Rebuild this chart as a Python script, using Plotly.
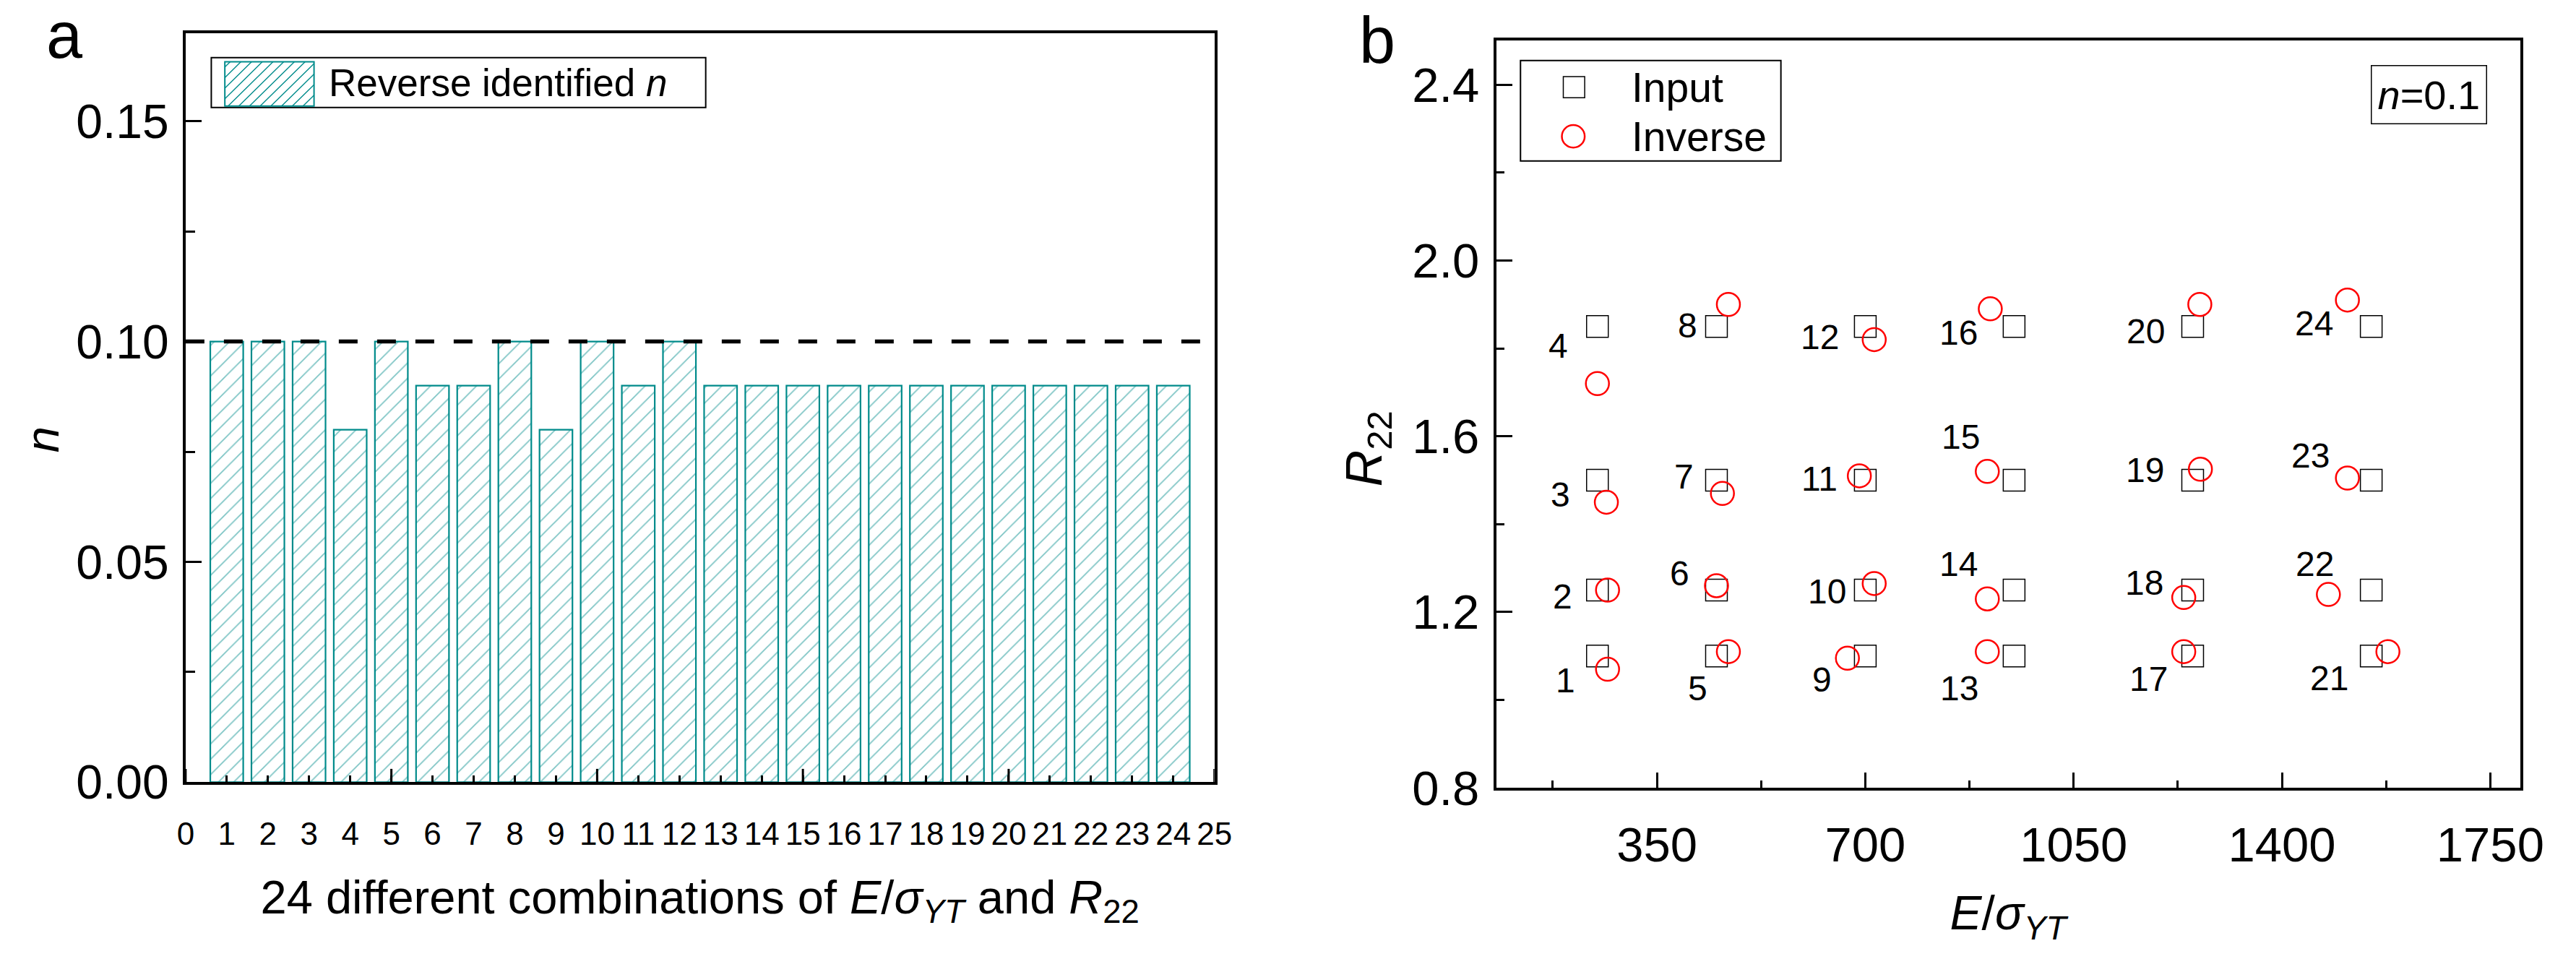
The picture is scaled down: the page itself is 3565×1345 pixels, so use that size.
import plotly.graph_objects as go

W, H = 3565, 1345
FONT = "Liberation Sans, Arial, sans-serif"
TEAL = "#008B8B"

# ---------------- Panel a data ----------------
combo_ids = list(range(1, 25))
n_identified = [0.10, 0.10, 0.10, 0.08, 0.10, 0.09, 0.09, 0.10, 0.08, 0.10, 0.09, 0.10,
                0.09, 0.09, 0.09, 0.09, 0.09, 0.09, 0.09, 0.09, 0.09, 0.09, 0.09, 0.09]
n_reference = 0.10
xa_ticks = list(range(0, 26))
xa_major = [0, 5, 10, 15, 20, 25]
ya_ticks = [0.00, 0.05, 0.10, 0.15]
ya_minor = [0.025, 0.075, 0.125]
bar_name = "Reverse identified <i>n</i>"

# ---------------- Panel b data ----------------
e_input = [250] * 4 + [450] * 4 + [700] * 4 + [950] * 4 + [1250] * 4 + [1550] * 4
r_input = [1.10, 1.25, 1.50, 1.85] * 6
e_inverse = [267, 267, 265, 250, 470, 450, 460, 470, 670, 715, 690, 715,
             905, 905, 905, 910, 1235, 1235, 1263, 1262, 1578, 1478, 1510, 1510]
r_inverse = [1.07, 1.25, 1.45, 1.72, 1.11, 1.26, 1.47, 1.90, 1.095, 1.265, 1.51, 1.82,
             1.11, 1.23, 1.52, 1.89, 1.11, 1.233, 1.525, 1.90, 1.11, 1.24, 1.505, 1.91]
case_labels = [str(i) for i in range(1, 25)]
xb_ticks = [350, 700, 1050, 1400, 1750]
xb_minor = [175, 525, 875, 1225, 1575]
yb_ticks = [0.8, 1.2, 1.6, 2.0, 2.4]
yb_minor = [1.0, 1.4, 1.8, 2.2]
series_names = ["Input", "Inverse"]

# label offsets in pixels (dx right, dy down) relative to input squares
label_dx = [-44, -48, -51, -54, -26, -51, -45, -40, -60, -53, -63, -63,
            -76, -77, -74, -77, -61, -67, -66, -65, -58, -78, -84, -79]
label_dy = [34, 9, 20, 27, 45, -23, -5, -1, 33, 2, -2, 15,
            45, -36, -60, 9, 32, -10, -14, 7, 31, -36, -34, -4]

# panel a plot area in pixels
A_TOP, A_BOT = 47, 1113


def px_x(p):
    return p / W


def px_y(p):
    return 1 - p / H


fig = go.Figure()

fig.add_trace(go.Bar(
    x=combo_ids, y=n_identified, width=0.8,
    name=bar_name, showlegend=False,
    marker=dict(color="white", line=dict(color=TEAL, width=2.2),
                pattern=dict(shape="/", fgcolor=TEAL, size=15, solidity=0.12)),
    xaxis="x", yaxis="y",
))

fig.add_trace(go.Scatter(
    x=e_input, y=r_input, mode="markers", name=series_names[0], showlegend=False,
    marker=dict(symbol="square-open", size=30, color="black", line=dict(width=1.5)),
    xaxis="x2", yaxis="y2",
))
fig.add_trace(go.Scatter(
    x=e_inverse, y=r_inverse, mode="markers", name=series_names[1], showlegend=False,
    marker=dict(symbol="circle-open", size=32, color="red", line=dict(width=2.5)),
    xaxis="x2", yaxis="y2",
))

axis_common = dict(showline=True, linewidth=4, linecolor="black", mirror=True,
                   showgrid=False, zeroline=False, ticks="inside", tickwidth=3,
                   tickcolor="black")

fig.update_layout(
    width=W, height=H, autosize=False, showlegend=False,
    margin=dict(l=0, r=0, t=0, b=0),
    paper_bgcolor="white", plot_bgcolor="white",
    font=dict(family=FONT, color="black"),
    xaxis=dict(axis_common, domain=[px_x(248), px_x(1690)], anchor="y",
               range=[0, 25], tickvals=xa_ticks, ticklen=9,
               tickfont=dict(size=44), ticklabelstandoff=30,
               title=dict(text="24 different combinations of <i>E</i>/<i>σ</i><sub><i>YT</i></sub> and <i>R</i><sub>22</sub>",
                          font=dict(size=65), standoff=42)),
    yaxis=dict(axis_common, domain=[px_y(A_BOT), px_y(A_TOP)], anchor="x",
               range=[0, 0.17], tickvals=ya_ticks, tickformat=".2f", ticklen=22,
               minor=dict(tickvals=ya_minor, ticks="inside", ticklen=13, tickwidth=3, tickcolor="black"),
               tickfont=dict(size=66), ticklabelstandoff=6),
    xaxis2=dict(axis_common, domain=[px_x(2085), px_x(3520)], anchor="y2",
                range=[80, 1800], tickvals=xb_ticks, ticklen=21,
                minor=dict(tickvals=xb_minor, ticks="inside", ticklen=10, tickwidth=3, tickcolor="black"),
                tickfont=dict(size=67), ticklabelstandoff=17,
                title=dict(text="<i>E</i>/<i>σ</i><sub><i>YT</i></sub>", font=dict(size=66), standoff=36)),
    yaxis2=dict(axis_common, domain=[px_y(1121), px_y(58)], anchor="x2",
                range=[0.8, 2.5], tickvals=yb_ticks, tickformat=".1f", ticklen=22,
                minor=dict(tickvals=yb_minor, ticks="inside", ticklen=11, tickwidth=3, tickcolor="black"),
                tickfont=dict(size=67), ticklabelstandoff=6),
)

# longer major ticks every 5 on the x axis of panel a
for v in xa_major:
    fig.add_shape(type="line", xref="x", yref="y domain", x0=v, x1=v,
                  y0=0, y1=19 / (A_BOT - A_TOP), layer="above",
                  line=dict(color="black", width=3))

# reference dashed line n = 0.1
fig.add_shape(type="line", xref="x domain", yref="y", x0=0, x1=1,
              y0=n_reference, y1=n_reference,
              line=dict(color="black", width=5.5, dash="26px,27px"))


def paper_rect(x0, y0, x1, y1, **kw):
    fig.add_shape(type="rect", xref="paper", yref="paper",
                  x0=px_x(x0), x1=px_x(x1), y0=px_y(y1), y1=px_y(y0), **kw)


# ---- legend of panel a (box, hatched key, text) ----
paper_rect(284, 82, 977, 153, line=dict(color="black", width=2), fillcolor="white")
KX0, KY0, KX1, KY1 = 303, 88, 428, 151
paper_rect(KX0, KY0, KX1, KY1, line=dict(color=TEAL, width=2), fillcolor="white")
segs = []
step = 15
c = KX0 + KY0 + step / 2
while c < KX1 + KY1:
    xa = max(KX0, c - KY1)
    xb = min(KX1, c - KY0)
    if xb > xa:
        segs.append("M{:.6f},{:.6f}L{:.6f},{:.6f}".format(
            px_x(xa), px_y(c - xa), px_x(xb), px_y(c - xb)))
    c += step
fig.add_shape(type="path", xref="paper", yref="paper", path="".join(segs),
              line=dict(color=TEAL, width=1.4))

# ---- legend of panel b (box, marker keys, text) ----
paper_rect(2119, 86, 2484, 229, line=dict(color="black", width=2), fillcolor="white")
paper_rect(2179, 109, 2209, 139, line=dict(color="black", width=1.5))
fig.add_shape(type="circle", xref="paper", yref="paper",
              x0=px_x(2177), x1=px_x(2209), y0=px_y(210), y1=px_y(178),
              line=dict(color="red", width=2.5))

annotations = [
    dict(text=bar_name, x=px_x(447), y=px_y(118), xref="paper", yref="paper",
         showarrow=False, font=dict(size=53), xanchor="left", yanchor="middle"),
    dict(text=series_names[0], x=px_x(2273), y=px_y(124), xref="paper", yref="paper",
         showarrow=False, font=dict(size=57), xanchor="left", yanchor="middle"),
    dict(text=series_names[1], x=px_x(2273), y=px_y(194), xref="paper", yref="paper",
         showarrow=False, font=dict(size=57), xanchor="left", yanchor="middle"),
    dict(text="a", x=px_x(78), y=px_y(50), xref="paper", yref="paper",
         showarrow=False, font=dict(size=90), xanchor="center", yanchor="middle"),
    dict(text="b", x=px_x(1918), y=px_y(58), xref="paper", yref="paper",
         showarrow=False, font=dict(size=90), xanchor="center", yanchor="middle"),
    dict(text="<i>n</i>", x=px_x(47), y=px_y(625), xref="paper", yref="paper",
         showarrow=False, font=dict(size=65), textangle=-90,
         xanchor="center", yanchor="middle"),
    dict(text="<i>R</i><sub>22</sub>", x=px_x(1905), y=px_y(638), xref="paper", yref="paper",
         showarrow=False, font=dict(size=70), textangle=-90,
         xanchor="center", yanchor="middle"),
    dict(text="<i>n</i>=0.1", x=px_x(3392), y=px_y(135), xref="paper", yref="paper",
         showarrow=False, font=dict(size=56), xanchor="center", yanchor="middle",
         bordercolor="black", borderwidth=1.5, borderpad=8, bgcolor="white"),
]
for lab, ex, ry, dx, dy in zip(case_labels, e_input, r_input, label_dx, label_dy):
    annotations.append(dict(text=lab, x=ex, y=ry, xref="x2", yref="y2",
                            showarrow=False, font=dict(size=48),
                            xshift=dx, yshift=-dy,
                            xanchor="center", yanchor="middle"))
fig.update_layout(annotations=annotations)

fig.write_html("out.html", config={"displayModeBar": False},
               post_script="document.body.style.margin='0';document.body.style.overflow='hidden';")
